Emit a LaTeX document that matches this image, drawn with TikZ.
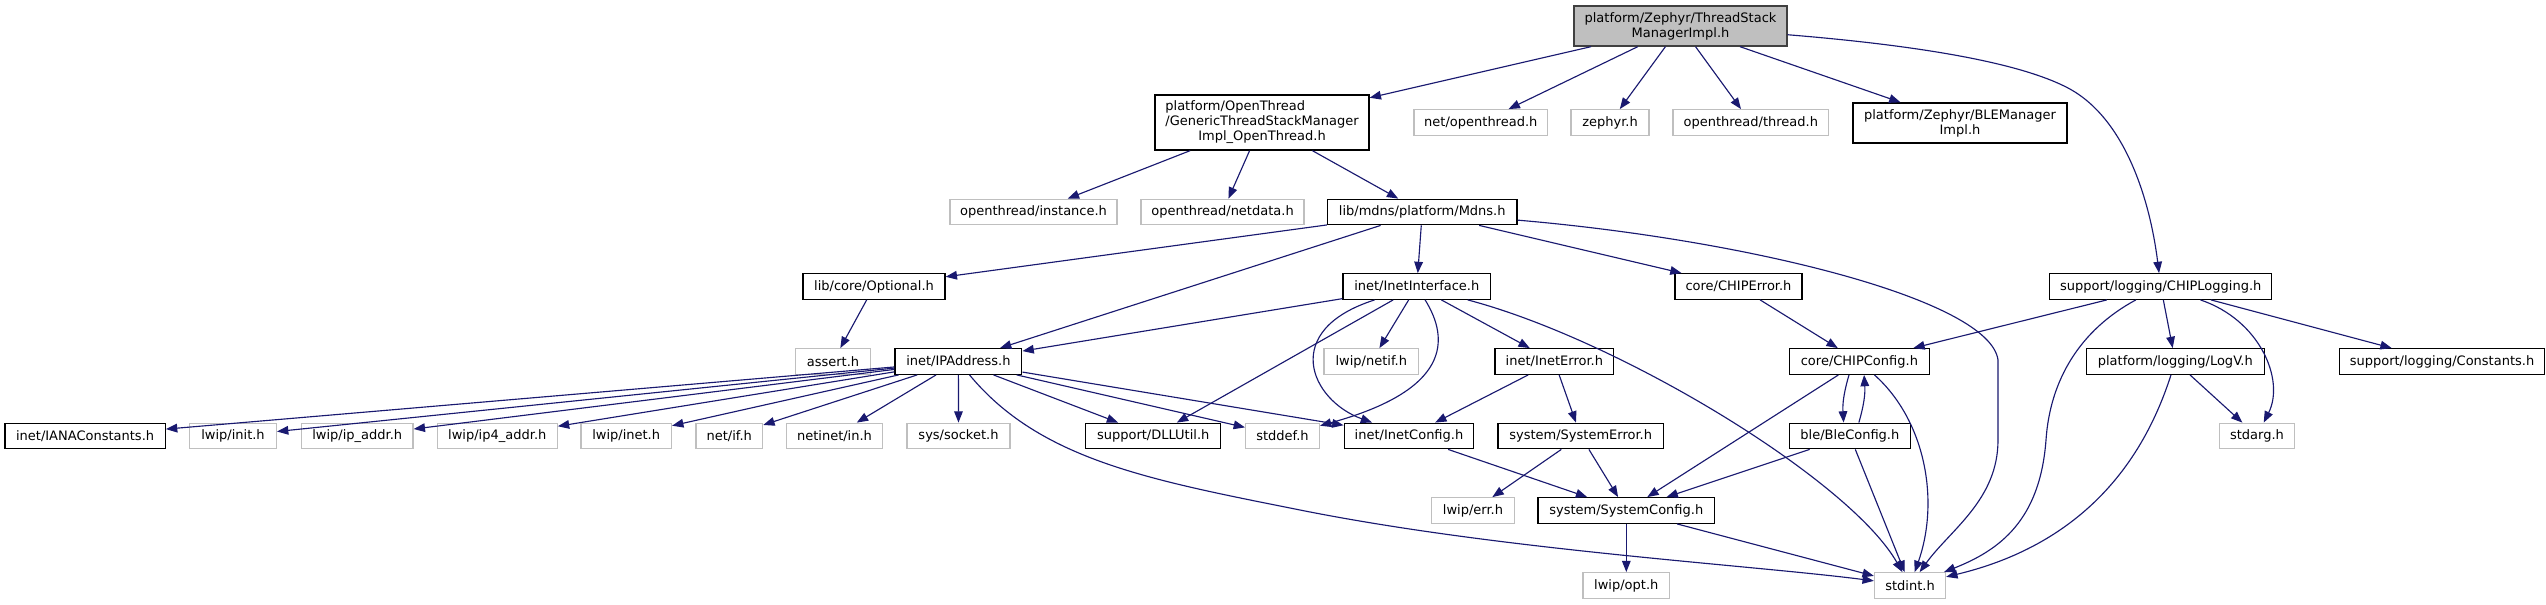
\documentclass[tikz,border=0pt]{standalone}
\usepackage{fontspec}
\setmainfont{DejaVu Sans}
\usetikzlibrary{arrows.meta}
\definecolor{edgec}{HTML}{191970}
\definecolor{grayb}{HTML}{BFBFBF}
\definecolor{rootfill}{HTML}{BFBFBF}
\definecolor{darkb}{HTML}{404040}
\tikzset{
  nd/.style={draw=black, fill=white, line width=1pt, inner sep=0pt, align=center,
    minimum height=25.5*0.75pt, font=\fontsize{9.75pt}{11.25pt}\selectfont},
  gnd/.style={nd, draw=grayb},
  wd/.style={minimum width=#1*0.75pt},
  ht/.style={minimum height=#1*0.75pt},
  e/.style={draw=edgec, line width=0.85pt, -{Triangle[length=8.5pt,width=6.5pt]}}
}
\begin{document}
\begin{tikzpicture}[x=0.75pt,y=-0.75pt]
\useasboundingbox[fill=white] (0,0) rectangle (2546,604);
% row 1
\node[nd, fill=rootfill, draw=darkb, wd=213, ht=40] (root) at (1680.5,26) {platform/Zephyr/ThreadStack\\ManagerImpl.h};
% row 2
\node[nd, wd=214, ht=55] (ot) at (1262,122.5) {\rlap{platform/OpenThread}\phantom{/GenericThreadStackManager}\\/GenericThreadStackManager\\Impl\_OpenThread.h};
\node[gnd, wd=133.6] (netot) at (1480.8,122.5) {net/openthread.h};
\node[gnd, wd=78] (zephyr) at (1610,122.5) {zephyr.h};
\node[gnd, wd=155.5] (otthread) at (1750.75,122.5) {openthread/thread.h};
\node[nd, wd=214, ht=40] (ble) at (1960,123) {platform/Zephyr/BLEManager\\Impl.h};
% row 3
\node[gnd, wd=167] (instance) at (1033.5,212) {openthread/instance.h};
\node[gnd, wd=163] (netdata) at (1222.5,212) {openthread/netdata.h};
\node[nd, wd=189.5] (mdns) at (1422.25,212) {lib/mdns/platform/Mdns.h};
% row 4
\node[nd, wd=142] (optional) at (874,286.5) {lib/core/Optional.h};
\node[nd, wd=147.6] (inetif) at (1416.8,286.5) {inet/InetInterface.h};
\node[nd, wd=127] (chiperr) at (1738.5,286.5) {core/CHIPError.h};
\node[nd, wd=222.2] (chiplog) at (2160.7,286.5) {support/logging/CHIPLogging.h};
% row 5
\node[gnd, wd=75] (assert) at (833,361.5) {assert.h};
\node[nd, wd=126.8] (ipaddr) at (958.4,361.5) {inet/IPAddress.h};
\node[gnd, wd=94.6] (netif) at (1371.3,361.5) {lwip/netif.h};
\node[nd, wd=118.7] (ineterr) at (1554.4,361.5) {inet/InetError.h};
\node[nd, wd=140] (chipcfg) at (1859.4,361.5) {core/CHIPConfig.h};
\node[nd, wd=177.8] (logv) at (2175.3,361.5) {platform/logging/LogV.h};
\node[nd, wd=204.8] (consts) at (2442,361.5) {support/logging/Constants.h};
% row 6
\node[nd, wd=160.4] (iana) at (85.1,436) {inet/IANAConstants.h};
\node[gnd, wd=86.7] (lwipinit) at (233,436) {lwip/init.h};
\node[gnd, wd=111.6] (ipaddrh) at (357.2,436) {lwip/ip\_addr.h};
\node[gnd, wd=119.8] (ipfour) at (497.3,436) {lwip/ip4\_addr.h};
\node[gnd, wd=90.5] (lwipinet) at (626.2,436) {lwip/inet.h};
\node[gnd, wd=66.6] (netifh) at (729.3,436) {net/if.h};
\node[gnd, wd=96] (netinet) at (834.5,436) {netinet/in.h};
\node[gnd, wd=103] (socket) at (958.5,436) {sys/socket.h};
\node[nd, wd=135] (dll) at (1153.2,436) {support/DLLUtil.h};
\node[gnd, wd=73.7] (stddef) at (1282.5,436) {stddef.h};
\node[nd, wd=129.5] (inetcfg) at (1409,436) {inet/InetConfig.h};
\node[nd, wd=165.5] (syserr) at (1580.7,436) {system/SystemError.h};
\node[nd, wd=121] (blecfg) at (1849.9,436) {ble/BleConfig.h};
\node[gnd, wd=75.4] (stdarg) at (2257,436) {stdarg.h};
% row 7
\node[gnd, wd=83] (lwiperr) at (1473,510.5) {lwip/err.h};
\node[nd, wd=176.6] (syscfg) at (1626.3,510.5) {system/SystemConfig.h};
% row 8
\node[gnd, wd=86.5] (lwipopt) at (1626.3,585.5) {lwip/opt.h};
\node[gnd, wd=71] (stdint) at (1910,585.5) {stdint.h};

% edges from root
\draw[e] (root) -- (ot);
\draw[e] (root) -- (netot);
\draw[e] (root) -- (zephyr);
\draw[e] (root) -- (otthread);
\draw[e] (root) -- (ble);
\draw[e] (root) .. controls (1950,48) and (2030,68) .. (2068,88) .. controls (2125,118) and (2150,200) .. (chiplog);
% from ot
\draw[e] (ot) -- (instance);
\draw[e] (ot) -- (netdata);
\draw[e] (ot) -- (mdns);
% from mdns
\draw[e] (mdns) -- (optional);
\draw[e] (mdns) -- (ipaddr);
\draw[e] (mdns) -- (inetif);
\draw[e] (mdns) -- (chiperr);
\draw[e] (mdns) .. controls (1750,240) and (1990,300) .. (1998,360) -- (1998,440) .. controls (1998,500) and (1950,530) .. (stdint);
% optional
\draw[e] (optional) -- (assert);
% inetif
\draw[e] (inetif) -- (ipaddr);
\draw[e] (inetif) -- (dll);
\draw[e] (inetif) .. controls (1280,330) and (1310,400) .. (inetcfg);
\draw[e] (inetif) -- (netif);
\draw[e] (inetif) .. controls (1450,340) and (1450,390) .. (stddef);
\draw[e] (inetif) -- (ineterr);
\draw[e] (inetif) .. controls (1620,340) and (1850,480) .. (stdint);
% ipaddr
\draw[e] (ipaddr) -- (iana);
\draw[e] (ipaddr) -- (lwipinit);
\draw[e] (ipaddr) -- (ipaddrh);
\draw[e] (ipaddr) -- (ipfour);
\draw[e] (ipaddr) -- (lwipinet);
\draw[e] (ipaddr) -- (netifh);
\draw[e] (ipaddr) -- (netinet);
\draw[e] (ipaddr) -- (socket);
\draw[e] (ipaddr) -- (dll);
\draw[e] (ipaddr) -- (stddef);
\draw[e] (ipaddr) -- (inetcfg);
\draw[e] (ipaddr) .. controls (1040,460) and (1150,480) .. (1300,510) .. controls (1500,550) and (1750,565) .. (stdint);
% ineterr
\draw[e] (ineterr) -- (inetcfg);
\draw[e] (ineterr) -- (syserr);
% syserr
\draw[e] (syserr) -- (lwiperr);
\draw[e] (syserr) -- (syscfg);
% inetcfg
\draw[e] (inetcfg) -- (syscfg);
% chiperr
\draw[e] (chiperr) -- (chipcfg);
% chipcfg
\draw[e] (chipcfg) -- (syscfg);
\draw[e] ([xshift=-7.8pt]chipcfg.south) to[bend right=10] ([xshift=-4.7pt]blecfg.north);
\draw[e] (chipcfg) .. controls (1925,420) and (1940,500) .. (stdint);
% blecfg
\draw[e] ([xshift=6.7pt]blecfg.north) to[bend right=10] ([xshift=3.5pt]chipcfg.south);
\draw[e] (blecfg) -- (syscfg);
\draw[e] (blecfg) -- (stdint);
% syscfg
\draw[e] (syscfg) -- (lwipopt);
\draw[e] (syscfg) -- (stdint);
% chiplog
\draw[e] (chiplog) -- (chipcfg);
\draw[e] (chiplog) -- (logv);
\draw[e] (chiplog) .. controls (2260,320) and (2285,380) .. (stdarg);
\draw[e] (chiplog) -- (consts);
\draw[e] (chiplog) .. controls (2080,330) and (2050,380) .. (2046,440) .. controls (2040,520) and (2000,550) .. (stdint);
% logv
\draw[e] (logv) -- (stdarg);
\draw[e] (logv) .. controls (2150,440) and (2100,540) .. (stdint);
\end{tikzpicture}
\end{document}
